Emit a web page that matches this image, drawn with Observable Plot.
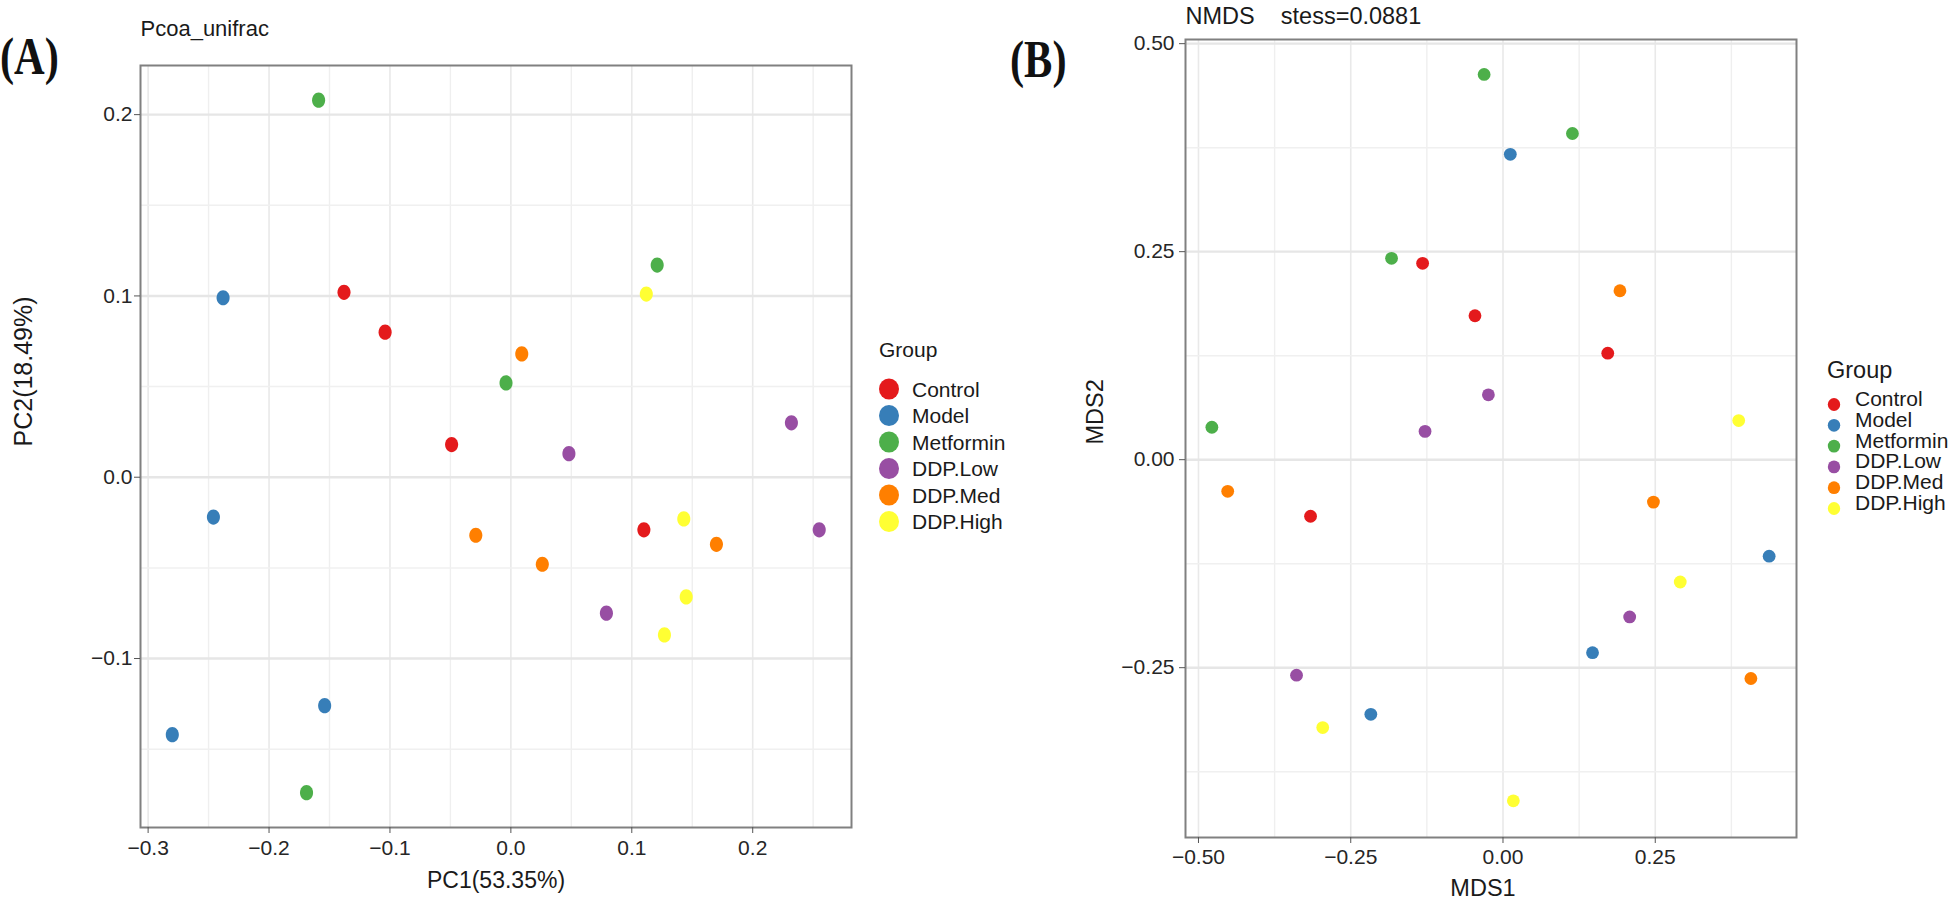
<!DOCTYPE html>
<html>
<head>
<meta charset="utf-8">
<script src="https://cdn.jsdelivr.net/npm/d3@7"></script>
<script src="https://cdn.jsdelivr.net/npm/@observablehq/plot@0.6"></script>
<style>
html, body { margin: 0; padding: 0; background: #fff; overflow: hidden; }
#root { position: relative; width: 1950px; height: 897px; background: #fff; font-family: "Liberation Sans", Arial, sans-serif; }
#root > * { position: absolute; top: 0; }
</style>
</head>
<body>
<div id="root"></div>
<script>
// ---- shared categories / colours ----
const groups = ["Control", "Model", "Metformin", "DDP.Low", "DDP.Med", "DDP.High"];
const groupColors = ["#E41A1C", "#377EB8", "#4DAF4A", "#984EA3", "#FF7F00", "#FFFF33"];

// ---- Panel A: PCoA (unifrac) ----
const pcoaTitle = "Pcoa_unifrac";
const pcoaXLabel = "PC1(53.35%)";
const pcoaYLabel = "PC2(18.49%)";
const pcoaGroup = [
  "Control", "Control", "Control", "Control",
  "Model", "Model", "Model", "Model",
  "Metformin", "Metformin", "Metformin", "Metformin",
  "DDP.Low", "DDP.Low", "DDP.Low", "DDP.Low",
  "DDP.Med", "DDP.Med", "DDP.Med", "DDP.Med",
  "DDP.High", "DDP.High", "DDP.High", "DDP.High"
];
const pc1 = [
  -0.138, -0.104, -0.049, 0.110,
  -0.238, -0.246, -0.154, -0.280,
  -0.159, 0.121, -0.004, -0.169,
  0.232, 0.048, 0.255, 0.079,
  0.009, -0.029, 0.170, 0.026,
  0.112, 0.143, 0.145, 0.127
];
const pc2 = [
  0.102, 0.080, 0.018, -0.029,
  0.099, -0.022, -0.126, -0.142,
  0.208, 0.117, 0.052, -0.174,
  0.030, 0.013, -0.029, -0.075,
  0.068, -0.032, -0.037, -0.048,
  0.101, -0.023, -0.066, -0.087
];
const pcoaXTicks = [-0.3, -0.2, -0.1, 0.0, 0.1, 0.2];
const pcoaXMinor = [-0.25, -0.15, -0.05, 0.05, 0.15, 0.25];
const pcoaYTicks = [-0.1, 0.0, 0.1, 0.2];
const pcoaYMinor = [-0.15, -0.05, 0.05, 0.15];
const pcoaXDomain = [-0.3063, 0.2817];
const pcoaYDomain = [-0.1932, 0.2271];

// ---- Panel B: NMDS ----
const nmdsTitle = "NMDS\u00a0\u00a0\u00a0\u00a0stess=0.0881";
const nmdsXLabel = "MDS1";
const nmdsYLabel = "MDS2";
const nmdsGroup = pcoaGroup.slice();
const mds1 = [
  -0.132, -0.046, 0.172, -0.316,
  0.012, 0.437, 0.147, -0.217,
  -0.031, 0.114, -0.183, -0.478,
  -0.024, -0.128, 0.208, -0.339,
  0.192, -0.452, 0.247, 0.407,
  0.387, 0.291, -0.296, 0.017
];
const mds2 = [
  0.236, 0.173, 0.128, -0.068,
  0.367, -0.116, -0.232, -0.306,
  0.463, 0.392, 0.242, 0.039,
  0.078, 0.034, -0.189, -0.259,
  0.203, -0.038, -0.051, -0.263,
  0.047, -0.147, -0.322, -0.410
];
const nmdsXTicks = [-0.5, -0.25, 0.0, 0.25];
const nmdsXMinor = [-0.375, -0.125, 0.125, 0.375];
const nmdsYTicks = [-0.25, 0.0, 0.25, 0.5];
const nmdsYMinor = [-0.375, -0.125, 0.125, 0.375];
const nmdsXDomain = [-0.5213, 0.4819];
const nmdsYDomain = [-0.4541, 0.505];

const legendTitle = "Group";
const panelTags = ["(A)", "(B)"];

// ---- helpers ----
const FONT = "'Liberation Sans', Arial, Helvetica, sans-serif";
const ellipseSymbol = (ratio) => ({
  draw(ctx, size) {
    const ry = Math.sqrt(size / Math.PI), rx = ry * ratio, k = 0.5523;
    ctx.moveTo(rx, 0);
    ctx.bezierCurveTo(rx, ry * k, rx * k, ry, 0, ry);
    ctx.bezierCurveTo(-rx * k, ry, -rx, ry * k, -rx, 0);
    ctx.bezierCurveTo(-rx, -ry * k, -rx * k, -ry, 0, -ry);
    ctx.bezierCurveTo(rx * k, -ry, rx, -ry * k, rx, 0);
    ctx.closePath();
  }
});

function panel(cfg) {
  const data = cfg.group.map((g, i) => ({group: g, x: cfg.xs[i], y: cfg.ys[i]}));
  return Plot.plot({
    width: cfg.width, height: 897,
    marginLeft: cfg.ml, marginRight: cfg.mr, marginTop: cfg.mt, marginBottom: cfg.mb,
    style: {fontFamily: FONT, fontSize: "21px", color: "#262626", background: "transparent", overflow: "visible"},
    x: {domain: cfg.xDomain},
    y: {domain: cfg.yDomain},
    color: {domain: groups, range: groupColors},
    marks: [
      Plot.gridX(cfg.xMinor, {stroke: "#efefef", strokeOpacity: 1, strokeWidth: 1.4}),
      Plot.gridX(cfg.xTicks, {stroke: "#e9e9e9", strokeOpacity: 1, strokeWidth: 1.6}),
      Plot.gridY(cfg.yMinor, {stroke: "#f0f0f0", strokeOpacity: 1, strokeWidth: 1.5}),
      Plot.gridY(cfg.yTicks, {stroke: "#e6e6e6", strokeOpacity: 1, strokeWidth: 2.4}),
      Plot.frame({stroke: "#808080", strokeWidth: 2}),
      Plot.axisX(cfg.xTicks, {tickSize: 6, tickPadding: cfg.xPad, tickFormat: d3.format(cfg.fmt), label: null, stroke: "#555", fill: "#262626"}),
      Plot.axisY(cfg.yTicks, {tickSize: 6, tickPadding: cfg.yPad, tickFormat: d3.format(cfg.fmt), label: null, stroke: "#555", fill: "#262626"}),
      Plot.dot(data, {x: "x", y: "y", fill: "group", r: cfg.r, symbol: cfg.symbol}),
      Plot.text([cfg.title], {text: d => d, frameAnchor: "top-left", textAnchor: "start", lineAnchor: "bottom", dy: cfg.titleDy, fontSize: cfg.titleSize, fill: "#1a1a1a"}),
      Plot.text([cfg.xLabel], {text: d => d, frameAnchor: "bottom", lineAnchor: "bottom", dx: cfg.xLabDx, dy: cfg.xLabDy, fontSize: cfg.labSize, fill: "#1a1a1a"}),
      Plot.text([cfg.yLabel], {text: d => d, frameAnchor: "left", rotate: -90, lineAnchor: "bottom", dx: cfg.yLabDx, dy: cfg.yLabDy, fontSize: cfg.yLabSize, fill: "#1a1a1a"})
    ]
  });
}

const root = document.getElementById("root");

const svgA = panel({
  width: 1000, ml: 140, mr: 149, mt: 65, mb: 70,
  group: pcoaGroup, xs: pc1, ys: pc2,
  xDomain: pcoaXDomain, yDomain: pcoaYDomain,
  xTicks: pcoaXTicks, xMinor: pcoaXMinor, yTicks: pcoaYTicks, yMinor: pcoaYMinor,
  fmt: ".1f", xPad: 7, yPad: 2,
  r: 7.6, symbol: ellipseSymbol(0.86),
  title: pcoaTitle, titleDy: -30, titleSize: 22,
  xLabel: pcoaXLabel, xLabDx: 0, xLabDy: 60, labSize: 23,
  yLabel: pcoaYLabel, yLabDx: -109, yLabDy: 0, yLabSize: 25
});
svgA.style.left = "0px";
root.appendChild(svgA);

const svgB = panel({
  width: 950, ml: 185, mr: 154, mt: 39, mb: 60,
  group: nmdsGroup, xs: mds1, ys: mds2,
  xDomain: nmdsXDomain, yDomain: nmdsYDomain,
  xTicks: nmdsXTicks, xMinor: nmdsXMinor, yTicks: nmdsYTicks, yMinor: nmdsYMinor,
  fmt: ".2f", xPad: 6, yPad: 5,
  r: 6.4, symbol: "circle",
  title: nmdsTitle, titleDy: -16, titleSize: 23.5,
  xLabel: nmdsXLabel, xLabDx: -8, xLabDy: 58, labSize: 23.5,
  yLabel: nmdsYLabel, yLabDx: -83, yLabDy: 6, yLabSize: 23.5
});
svgB.style.left = "1000px";
root.appendChild(svgB);

// ---- overlay: panel tags and legends ----
const overlay = d3.select(root).append("svg")
  .attr("width", 1950).attr("height", 897)
  .style("left", "0px").style("pointer-events", "none")
  .style("font-family", FONT);

const tagPos = [{x: 0, y: 74}, {x: 1010, y: 77}];
panelTags.forEach((t, i) => {
  overlay.append("text")
    .attr("transform", `translate(${tagPos[i].x},${tagPos[i].y}) scale(0.8,1)`)
    .attr("font-family", "'Liberation Serif', 'Times New Roman', serif")
    .attr("font-weight", "bold").attr("font-size", 53)
    .attr("fill", "#111").text(t);
});

function legend(cfg) {
  const g = overlay.append("g");
  g.append("text").attr("x", cfg.x).attr("y", cfg.titleY)
    .attr("font-size", cfg.titleSize).attr("fill", "#1a1a1a").text(legendTitle);
  groups.forEach((name, i) => {
    const cy = cfg.y0 + i * cfg.step;
    g.append("ellipse").attr("cx", cfg.dotX).attr("cy", cy)
      .attr("rx", cfg.rx).attr("ry", cfg.ry).attr("fill", groupColors[i]);
    g.append("text").attr("x", cfg.textX).attr("y", cy + cfg.baseOff)
      .attr("font-size", cfg.fontSize).attr("fill", "#1a1a1a").text(name);
  });
}
legend({x: 879, titleY: 357, titleSize: 21, dotX: 889, y0: 389, step: 26.5, rx: 10, ry: 10.6, textX: 912, baseOff: 7.5, fontSize: 21});
legend({x: 1827, titleY: 378, titleSize: 23.5, dotX: 1834, y0: 404.5, step: 20.8, rx: 6.2, ry: 6.4, textX: 1855, baseOff: 1.5, fontSize: 21});
</script>
</body>
</html>
